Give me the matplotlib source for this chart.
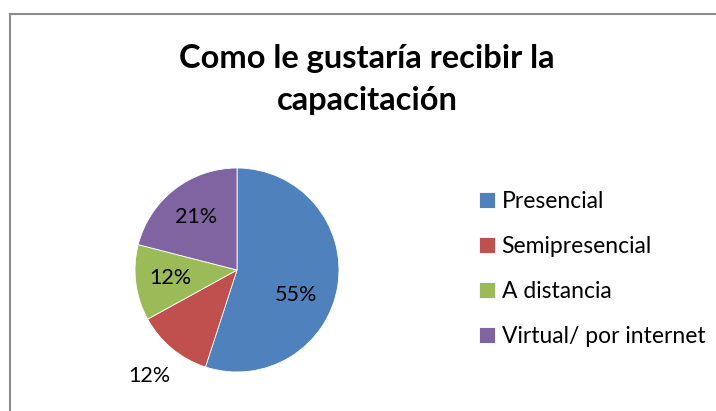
import numpy as np
import matplotlib.pyplot as plt
from matplotlib.lines import Line2D

title = "Como le gustaría recibir la\ncapacitación"
categories = ["Presencial", "Semipresencial", "A distancia", "Virtual/ por internet"]
values = [55, 12, 12, 21]
colors = ["#4F81BD", "#C0504D", "#9BBB59", "#8064A2"]

plt.rcParams["font.family"] = ["Lato", "DejaVu Sans"]

fig = plt.figure(figsize=(7.16, 4.11), dpi=100)

# chart frame (only top and left edges visible in the crop)
fig.add_artist(Line2D([10 / 716, 10 / 716], [0, 1 - 14 / 411], color="#8c8c8c", lw=1.5))
fig.add_artist(Line2D([10 / 716, 1], [1 - 14 / 411, 1 - 14 / 411], color="#8c8c8c", lw=1.5))

fig.text(367 / 716, 1 - 58 / 411, "Como le gustaría recibir la", ha="center", va="center",
         fontsize=23.5, fontweight="bold")
fig.text(367 / 716, 1 - 100 / 411, "capacitación", ha="center", va="center",
         fontsize=23.5, fontweight="bold")

cx, cy, r = 237, 270, 102
ax = fig.add_axes([(cx - r) / 716, (411 - cy - r) / 411, 2 * r / 716, 2 * r / 411])
wedges, texts, autotexts = ax.pie(values, colors=colors, startangle=90, counterclock=False,
                                  autopct="%1.0f%%", pctdistance=0.66,
                                  wedgeprops=dict(edgecolor="white", linewidth=0.6),
                                  textprops=dict(fontsize=15.5))
ax.set_xlim(-1, 1)
ax.set_ylim(-1, 1)
ax.set_aspect("auto")

# Presencial label sits lower than the wedge midpoint, Semipresencial outside
a = np.deg2rad(-23)
autotexts[0].set_position((0.63 * np.cos(a), 0.63 * np.sin(a)))
a = np.deg2rad((wedges[1].theta1 + wedges[1].theta2) / 2)
autotexts[1].set_position((1.35 * np.cos(a), 1.35 * np.sin(a)))
for t in autotexts:
    t.set_clip_on(False)

fig.legend(wedges, categories, loc="center left", bbox_to_anchor=(458 / 716, 1 - 269 / 411),
           frameon=False, fontsize=16.5, handlelength=0.7, handleheight=0.7,
           handletextpad=0.3, labelspacing=1.05)

fig.savefig("out.png", dpi=100)
